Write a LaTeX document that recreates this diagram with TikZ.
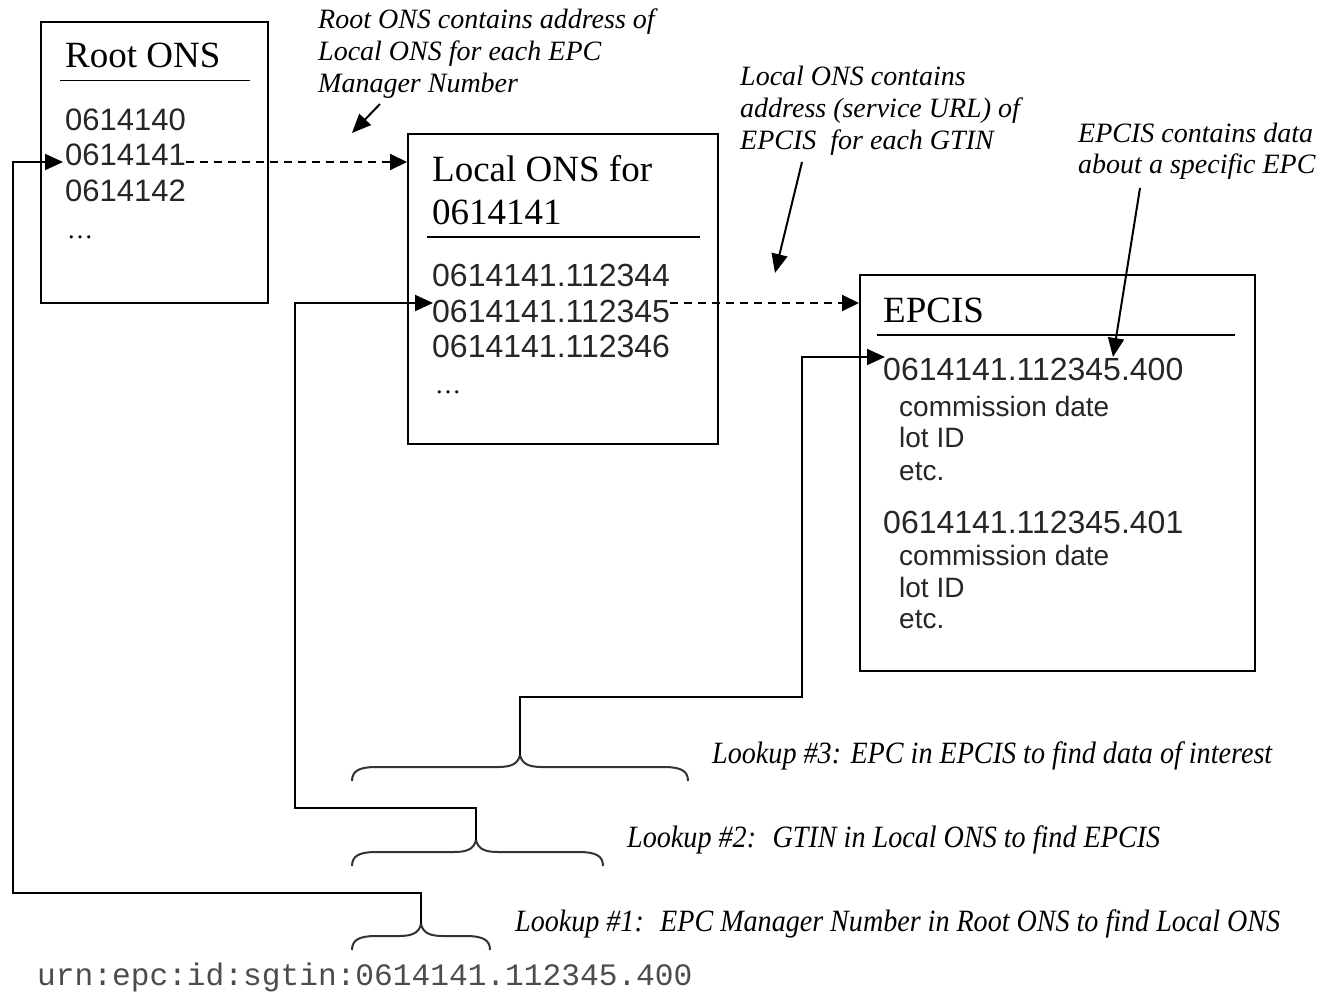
\documentclass[tikz,border=0pt]{standalone}
\usepackage{fontspec}
\setmainfont{Liberation Serif}
\newfontfamily\sansf{Liberation Sans}
\newfontfamily\monof{Liberation Mono}
\usepackage{graphicx}
\usetikzlibrary{arrows.meta,calc}
\newcommand\brc[4]{\draw[bracel] (#1,#4+14) .. controls (#1,#4+4) and (#1+7,#4) .. (#1+24,#4) -- (#3-22,#4) .. controls (#3-9,#4) and (#3-2,#4-3) .. (#3,#4-12) .. controls (#3+2,#4-3) and (#3+9,#4) .. (#3+22,#4) -- (#2-24,#4) .. controls (#2-7,#4) and (#2,#4+4) .. (#2,#4+14);}
\begin{document}
\begin{tikzpicture}[x=1pt,y=-1pt,
  box/.style={draw, line width=2pt, anchor=north west, inner sep=0pt},
  ttl/.style={anchor=base west, inner sep=0pt, font=\fontsize{37}{40}\selectfont},
  rnum/.style={anchor=base west, inner sep=0pt, font=\fontsize{31}{34}\selectfont\sansf, text=black!85},
  num/.style={anchor=base west, inner sep=0pt, font=\fontsize{32}{36}\selectfont\sansf, text=black!85},
  item/.style={anchor=base west, inner sep=0pt, font=\fontsize{28}{30}\selectfont\sansf, text=black!85},
  dots/.style={anchor=base west, inner sep=0pt, font=\fontsize{26}{28}\selectfont},
  note/.style={anchor=base west, inner sep=0pt, align=left, font=\fontsize{28}{32}\selectfont\itshape},
  lk/.style={anchor=base west, inner sep=0pt, font=\fontsize{31}{34}\selectfont\itshape},
  rulel/.style={line width=1.8pt},
  conn/.style={line width=2pt},
  tip/.style={-{Triangle[length=18pt,width=16pt]}},
  dsh/.style={line width=2pt, dash pattern=on 8pt off 6pt, -{Triangle[length=17pt,width=16pt]}},
  annarr/.style={line width=2pt, -{Triangle[length=19pt,width=16pt]}},
  bracel/.style={line width=2pt, black!80}
]
\fill[white] (0,0) rectangle (1321,993);
\useasboundingbox (0,0) rectangle (1321,993);

% Root ONS
\node[box, minimum width=227pt, minimum height=281pt] (root) at (40,21) {};
\node[ttl] (roott) at (65,67) {Root ONS};
\draw[rulel] (60,80.5) -- (250,80.5);
\node[rnum] (r0) at (65,130) {0614140};
\node[rnum] (r1) at (65,165) {0614141};
\node[rnum] (r2) at (65,201) {0614142};
\node[dots] (rd) at (67,238) {…};

% Local ONS
\node[box, minimum width=310pt, minimum height=310pt] (local) at (407,133) {};
\node[ttl] (lt1) at (432,181) {Local ONS for};
\node[ttl] (lt2) at (432,224) {0614141};
\draw[rulel] (427,237) -- (700,237);
\node[num] (l0) at (432,286) {0614141.112344};
\node[num] (l1) at (432,322) {0614141.112345};
\node[num] (l2) at (432,357) {0614141.112346};
\node[dots] (ld) at (435,393) {…};

% EPCIS
\node[box, minimum width=395pt, minimum height=396pt] (epcis) at (859,274) {};
\node[ttl] (et) at (883,322) {EPCIS};
\draw[rulel] (877,335) -- (1235,335);
\node[num] (e1) at (883,380) {0614141.112345.400};
\node[item] (e1a) at (899,416) {commission date};
\node[item] (e1b) at (899,447) {lot ID};
\node[item] (e1c) at (899,480) {etc.};
\node[num] (e2) at (883,533) {0614141.112345.401};
\node[item] (e2a) at (899,565) {commission date};
\node[item] (e2b) at (899,597) {lot ID};
\node[item] (e2c) at (899,628) {etc.};

% annotations (base = last line)
\node[note] (n1) at (318,92) {Root ONS contains address of\\Local ONS for each EPC\\Manager Number};
\node[note] (n2) at (740,149) {Local ONS contains\\address (service URL) of\\EPCIS~ for each GTIN};
\node[note, font=\fontsize{28}{31}\selectfont\itshape] (n3) at (1078,173) {EPCIS contains data\\about a specific EPC};
\coordinate (a1s) at (380,104); \coordinate (a1e) at (352,133);
\coordinate (a2s) at (802,162); \coordinate (a2e) at (775,273);
\coordinate (a3s) at (1140,188); \coordinate (a3e) at (1113,357);
\draw[annarr] (a1s) -- (a1e);
\draw[annarr] (a2s) -- (a2e);
\draw[annarr] (a3s) -- (a3e);

% entry points
\coordinate (rootin) at (63,162);
\coordinate (locin) at (433,303);
\coordinate (epin) at (885,357);

% dashed referrals
\draw[dsh] (r1.east |- rootin) -- (local.west |- rootin);
\draw[dsh] (l1.east |- locin) -- (epcis.west |- locin);

% braces
\brc{352}{688}{520}{767}
\brc{352}{603}{476}{852}
\brc{352}{490}{421}{936}
\coordinate (b3tip) at (520,755);
\coordinate (b2tip) at (476,840);
\coordinate (b1tip) at (421,924);
\coordinate (k3) at (802,697);
\coordinate (k2) at (295,808);
\coordinate (k1) at (13,893);

\draw[conn,tip] (b3tip) |- (k3) |- (epin);
\draw[conn,tip] (b2tip) |- (k2) |- (locin);
\draw[conn,tip] (b1tip) |- (k1) |- (rootin);

% lookup labels
\node[lk] (lk3) at (712,763) {\resizebox{560pt}{\height}{Lookup \#3: EPC in EPCIS to find data of interest}};
\node[lk] (lk2) at (627,847) {\resizebox{533pt}{\height}{Lookup \#2:~ GTIN in Local ONS to find EPCIS}};
\node[lk] (lk1) at (515,931) {\resizebox{765pt}{\height}{Lookup \#1:~ EPC Manager Number in Root ONS to find Local ONS}};

% urn
\node[anchor=base west, inner sep=0pt, font=\fontsize{31.2}{34}\selectfont\monof, text=black!70] (urn) at (37,985) {urn:epc:id:sgtin:0614141.112345.400};
\end{tikzpicture}
\end{document}
